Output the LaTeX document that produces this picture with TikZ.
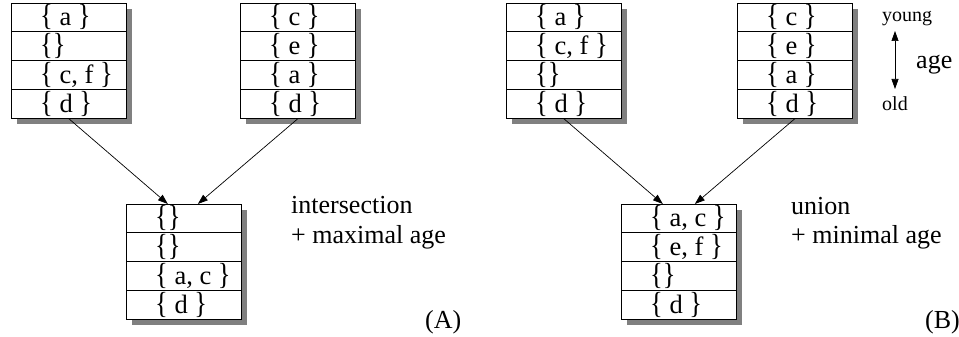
\documentclass[tikz,border=0pt]{standalone}
\usepackage{fontspec}
\usepackage{graphicx}
\setmainfont{Liberation Serif}
\usetikzlibrary{arrows.meta}

\definecolor{shadowgray}{gray}{0.5}

% slightly taller set braces
\newcommand\openset{\scalebox{1}[1.15]{\{}}
\newcommand\closeset{\scalebox{1}[1.15]{\}}}
\newcommand\setof[1]{\openset\ #1\ \closeset}
\newcommand\noneset{\openset\closeset}

\tikzset{
  stackframe/.style={draw=black, fill=white, line width=0.7pt, rectangle,
    minimum width=115pt, minimum height=115pt, inner sep=0pt},
  rowline/.style={draw=black, line width=0.7pt},
  entry/.style={anchor=west, inner sep=0pt,
    font=\fontsize{26.5}{29}\selectfont},
  caption/.style={anchor=base west, inner sep=0pt,
    font=\fontsize{26}{30}\selectfont},
  smallcap/.style={anchor=west, inner sep=0pt,
    font=\fontsize{20}{24}\selectfont},
  flow/.style={draw=black, line width=0.7pt, -{Triangle[length=10pt, width=7pt]}},
}

% one age-ordered list of sets: name, left x, top y, four entries (young to old)
\newcommand\agestack[7]{%
  \fill[shadowgray] (#2+6,#3+6) rectangle (#2+121,#3+121);
  \node[stackframe, anchor=north west] (#1) at (#2,#3) {};
  \draw[rowline] (#2,#3+28.75) -- ++(115,0);
  \draw[rowline] (#2,#3+57.5) -- ++(115,0);
  \draw[rowline] (#2,#3+86.25) -- ++(115,0);
  \node[entry] (#1-1) at (#2+29,#3+14.4) {#4};
  \node[entry] (#1-2) at (#2+29,#3+43.1) {#5};
  \node[entry] (#1-3) at (#2+29,#3+71.9) {#6};
  \node[entry] (#1-4) at (#2+29,#3+100.6) {#7};
}

\begin{document}
\begin{tikzpicture}[x=1pt, y=-1pt]
  \useasboundingbox (0,0) rectangle (959,337);

  % (A): intersection with maximal age
  \agestack{aL}{11}{3}{\setof{a}}{\noneset}{\setof{c, f}}{\setof{d}}
  \agestack{aR}{240}{3}{\setof{c}}{\setof{e}}{\setof{a}}{\setof{d}}
  \agestack{aM}{126}{204}{\noneset}{\noneset}{\setof{a, c}}{\setof{d}}

  \draw[flow] (aL.south) -- ([xshift=-16pt]aM.north);
  \draw[flow] (aR.south) -- ([xshift=14pt]aM.north);

  \node[caption] (aOp) at (291,213) {intersection};
  \node[caption] (aRule) at (291,243) {+ maximal age};
  \node[caption] (aTag) at (425,328) {(A)};

  % (B): union with minimal age
  \agestack{bL}{506}{3}{\setof{a}}{\setof{c, f}}{\noneset}{\setof{d}}
  \agestack{bR}{737}{3}{\setof{c}}{\setof{e}}{\setof{a}}{\setof{d}}
  \agestack{bM}{621}{204}{\setof{a, c}}{\setof{e, f}}{\noneset}{\setof{d}}

  \draw[flow] (bL.south) -- ([xshift=-16pt]bM.north);
  \draw[flow] (bR.south) -- ([xshift=16pt]bM.north);

  \node[caption] (bOp) at (791,214) {union};
  \node[caption] (bRule) at (791,243) {+ minimal age};
  \node[caption] (bTag) at (925,328) {(B)};

  % age scale
  \node[smallcap] (young) at (882,19) {young};
  \node[smallcap] (old) at (882,104) {old};
  \node[caption, anchor=west] (age) at (916,65) {age};
  \coordinate (ageTop) at (895,31);
  \coordinate (ageBot) at (895,89);
  \draw[line width=0.7pt, {Triangle[length=10pt, width=7pt]}-{Triangle[length=10pt, width=7pt]}] (ageTop) -- (ageBot);
\end{tikzpicture}
\end{document}
